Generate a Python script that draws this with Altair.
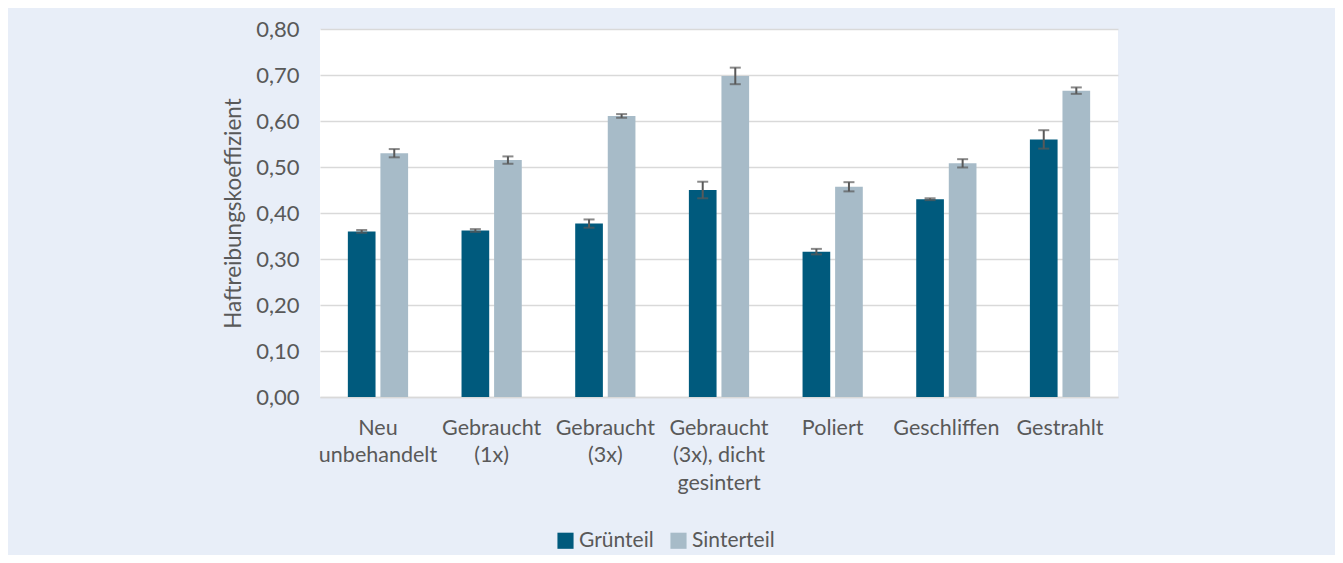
import altair as alt
import pandas as pd

categories = ["Neu|unbehandelt", "Gebraucht|(1x)", "Gebraucht|(3x)",
              "Gebraucht|(3x), dicht|gesintert", "Poliert", "Geschliffen", "Gestrahlt"]
series = ["Grünteil", "Sinterteil"]
gruen_values = [0.360, 0.362, 0.377, 0.450, 0.316, 0.430, 0.560]
gruen_errors = [0.003, 0.003, 0.009, 0.018, 0.006, 0.002, 0.020]
sinter_values = [0.530, 0.515, 0.611, 0.698, 0.457, 0.508, 0.666]
sinter_errors = [0.009, 0.008, 0.004, 0.018, 0.010, 0.009, 0.007]

rows = []
for c, v, e in zip(categories, gruen_values, gruen_errors):
    rows.append({"cat": c, "serie": series[0], "value": v, "lo": v - e, "hi": v + e})
for c, v, e in zip(categories, sinter_values, sinter_errors):
    rows.append({"cat": c, "serie": series[1], "value": v, "lo": v - e, "hi": v + e})
df = pd.DataFrame(rows)

FONT = "Lato"
GREY = "#595959"

x = alt.X("cat:N", sort=categories, title=None,
          scale=alt.Scale(paddingInner=0.47, paddingOuter=0.245),
          axis=alt.Axis(labelExpr="split(datum.label, '|')", labelAngle=0,
                        labelFontSize=21.5, labelColor=GREY, labelFont=FONT,
                        labelLineHeight=27.5, labelPadding=20,
                        ticks=False, domainColor="#d9d9d9", domainWidth=1.5,
                        labelBaseline="top", labelLimit=200))
xo = alt.XOffset("serie:N", sort=series, scale=alt.Scale(paddingInner=0.15, paddingOuter=0))
y = alt.Y("value:Q", title="Haftreibungskoeffizient",
          scale=alt.Scale(domain=[0, 0.8], nice=False),
          axis=alt.Axis(values=[0, 0.1, 0.2, 0.3, 0.4, 0.5, 0.6, 0.7, 0.8],
                        labelExpr="replace(format(datum.value, '.2f'), '.', ',')",
                        labelFontSize=22, labelColor=GREY, labelFont=FONT,
                        labelPadding=21, ticks=False, domain=False,
                        gridColor="#d9d9d9", gridWidth=1.5,
                        titleFontSize=22.5, titleColor=GREY, titleFont=FONT,
                        titleFontWeight="normal", titlePadding=10))

color = alt.Color("serie:N", sort=series, title=None,
                  scale=alt.Scale(domain=series, range=["#005a7d", "#a7bbc8"]),
                  legend=alt.Legend(orient="none", legendX=235, legendY=501,
                                    direction="horizontal", symbolType="square",
                                    symbolSize=260, symbolStrokeWidth=0,
                                    labelFontSize=21, labelColor=GREY, labelFont=FONT,
                                    columnPadding=14, labelOffset=3))

base = alt.Chart(df)
bars = base.mark_bar().encode(x=x, xOffset=xo, y=y, color=color)
rule = base.mark_rule(color=GREY, strokeWidth=2).encode(
    x=x, xOffset=xo, y=alt.Y("lo:Q"), y2="hi:Q")
cap_lo = base.mark_tick(color=GREY, thickness=2, size=11, orient="horizontal").encode(
    x=x, xOffset=xo, y=alt.Y("lo:Q"))
cap_hi = base.mark_tick(color=GREY, thickness=2, size=11, orient="horizontal").encode(
    x=x, xOffset=xo, y=alt.Y("hi:Q"))

chart = alt.layer(bars, rule, cap_lo, cap_hi).properties(
    width=798, height=368,
    autosize=alt.AutoSizeParams(type="none"),
    padding={"left": 312, "top": 21, "right": 217, "bottom": 158},
    background="#e8eef8",
).configure_view(fill="white", stroke=None)

chart.save("out.html", embed_options={"renderer": "svg", "actions": False})
